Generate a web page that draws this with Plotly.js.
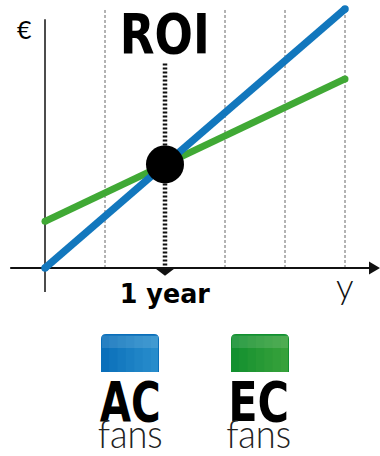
<!DOCTYPE html>
<html><head><meta charset="utf-8">
<script src="https://cdn.plot.ly/plotly-3.0.1.min.js"></script>
<style>html,body{margin:0;padding:0;background:#fff}#chart{width:380px;height:456px}</style>
</head><body><div id="chart"></div>
<script>
// Data
var years = [0, 5];
var acValues = [0, 10];
var ecValues = [1.8, 7.3];
var roiX = 2;
var roiY = 4;
var gridX = [1, 3, 4, 5];
var seriesNames = ['AC', 'EC'];
var seriesSub = 'fans';
var seriesColors = ['#1277bd', '#40a935'];
var xLabel = '1 year';
var xUnit = 'y';
var yUnit = '€';
var titleText = 'ROI';

var W = 380, H = 456;
function px(x){return x/W;}
function py(y){return 1 - y/H;}

var traces = [
  {x: years, y: ecValues, mode: 'lines+markers', line: {color: seriesColors[1], width: 7}, marker:{size:7,color:seriesColors[1]}, hoverinfo:'skip'},
  {x: years, y: acValues, mode: 'lines+markers', line: {color: seriesColors[0], width: 7.5}, marker:{size:7.5,color:seriesColors[0]}, hoverinfo:'skip'},
  {x: [roiX], y: [roiY], mode: 'markers', marker: {size: 38, color: '#000'}, hoverinfo:'skip'}
];

var shapes = [];
gridX.forEach(function(g){
  shapes.push({type:'line', xref:'x', yref:'y', x0:g, x1:g, y0:0, y1:10, line:{color:'#666', width:1, dash:'3px,2px'}, layer:'below'});
});
shapes.push({type:'line', xref:'x', yref:'y', x0:0, x1:0, y0:-0.93, y1:9.6, line:{color:'#111', width:1.5}, layer:'below'});
shapes.push({type:'line', xref:'x', yref:'y', x0:-0.58, x1:5.45, y0:0, y1:0, line:{color:'#111', width:2}, layer:'below'});
shapes.push({type:'path', xref:'x', yref:'y', path:'M 5.40 0.25 L 5.583 0 L 5.40 -0.25 Z', fillcolor:'#111', line:{width:0}});
shapes.push({type:'line', xref:'x', yref:'y', x0:roiX, x1:roiX, y0:0.1, y1:7.95, line:{color:'#111', width:4.5, dash:'2px,2px'}, layer:'below'});
shapes.push({type:'path', xref:'x', yref:'y', path:'M 1.83 0 L 2.17 0 L 2 -0.3 Z', fillcolor:'#111', line:{width:0}});

function box(x0, x1, y0, y1, col, light){
  var r = 5;
  var p = 'M '+px(x0)+' '+py(y1)+' L '+px(x0)+' '+py(y0+r)+' Q '+px(x0)+' '+py(y0)+' '+px(x0+r)+' '+py(y0)+
          ' L '+px(x1-r)+' '+py(y0)+' Q '+px(x1)+' '+py(y0)+' '+px(x1)+' '+py(y0+r)+' L '+px(x1)+' '+py(y1)+' Z';
  shapes.push({type:'path', xref:'paper', yref:'paper', path:p, fillcolor:col, line:{width:0}});
  var n = 6;
  for (var i=0;i<n;i++){
    var a = x0 + (x1-x0)*(i+1)/(n+1);
    shapes.push({type:'rect', xref:'paper', yref:'paper', x0:px(a), x1:px(x1-1), y0:py(y1), y1:py(y0+2), fillcolor:light, opacity:0.07, line:{width:0}});
  }
  shapes.push({type:'rect', xref:'paper', yref:'paper', x0:px(x0+1), x1:px(x1-1), y0:py(y0+14), y1:py(y0+1.5), fillcolor:'#fff', opacity:0.12, line:{width:0}});
}
box(101, 159, 334, 372, '#0a6fba', '#5ec3ee');
box(231, 289, 334, 372, '#12902f', '#7cc45a');

function ann(text, x, y, font, opts){
  opts = opts || {};
  return {text:text, xref: opts.xref || 'paper', yref:'paper', x: opts.xref ? x : px(x), y: py(y),
          xanchor:'center', yanchor: opts.yanchor || 'middle', showarrow:false, font:font};
}
var bold = '"DejaVu Sans", sans-serif';
var light = 'Lato, sans-serif';
function legendText(name){
  return '<span style="font-size:56px;font-weight:700;font-family:DejaVu Sans;fill:#000">' + name +
         '</span><br><span style="font-size:39px;font-weight:300;font-family:Lato;fill:#222">' + seriesSub + '</span>';
}
var annotations = [
  ann(yUnit, 24, 29, {family:light, size:25, color:'#000', weight:400}),
  ann(titleText, 165, 34, {family:bold, size:55, color:'#000', weight:700}),
  ann(xLabel, roiX, 293, {family:bold, size:27, color:'#000', weight:700}, {xref:'x'}),
  ann(xUnit, 345, 285, {family:light, size:35, color:'#111', weight:300}),
  ann(legendText(seriesNames[0]), 130, 367, {family:light, size:21, color:'#000'}, {yanchor:'top'}),
  ann(legendText(seriesNames[1]), 258, 367, {family:light, size:21, color:'#000'}, {yanchor:'top'})
];

var layout = {
  width: W, height: H,
  margin: {l:0, r:0, t:0, b:0},
  paper_bgcolor: '#fff', plot_bgcolor: '#fff',
  showlegend: false,
  xaxis: {range:[-0.75, 5.5833], visible:false, fixedrange:true},
  yaxis: {range:[-7.259, 10.347], visible:false, fixedrange:true},
  shapes: shapes,
  annotations: annotations
};

// condensed look: squeeze the heavy labels to the reference widths
var squeeze = {};
squeeze[titleText] = 90;
squeeze[xLabel] = 90;
squeeze[seriesNames[0]] = 61;
squeeze[seriesNames[1]] = 61;
squeeze[seriesSub] = 65;

Plotly.newPlot('chart', traces, layout, {displayModeBar:false, staticPlot:true}).then(function(gd){
  var texts = gd.querySelectorAll('text.annotation-text');
  texts.forEach(function(t){
    var spans = t.querySelectorAll('tspan');
    if (!spans.length) {
      var w = squeeze[t.textContent];
      if (w) { t.setAttribute('textLength', w); t.setAttribute('lengthAdjust', 'spacingAndGlyphs'); }
    } else {
      spans.forEach(function(s){
        if (s.querySelector('tspan')) return;
        var w = squeeze[s.textContent];
        if (w) { s.setAttribute('textLength', w); s.setAttribute('lengthAdjust', 'spacingAndGlyphs'); }
      });
    }
  });
});
</script></body></html>
